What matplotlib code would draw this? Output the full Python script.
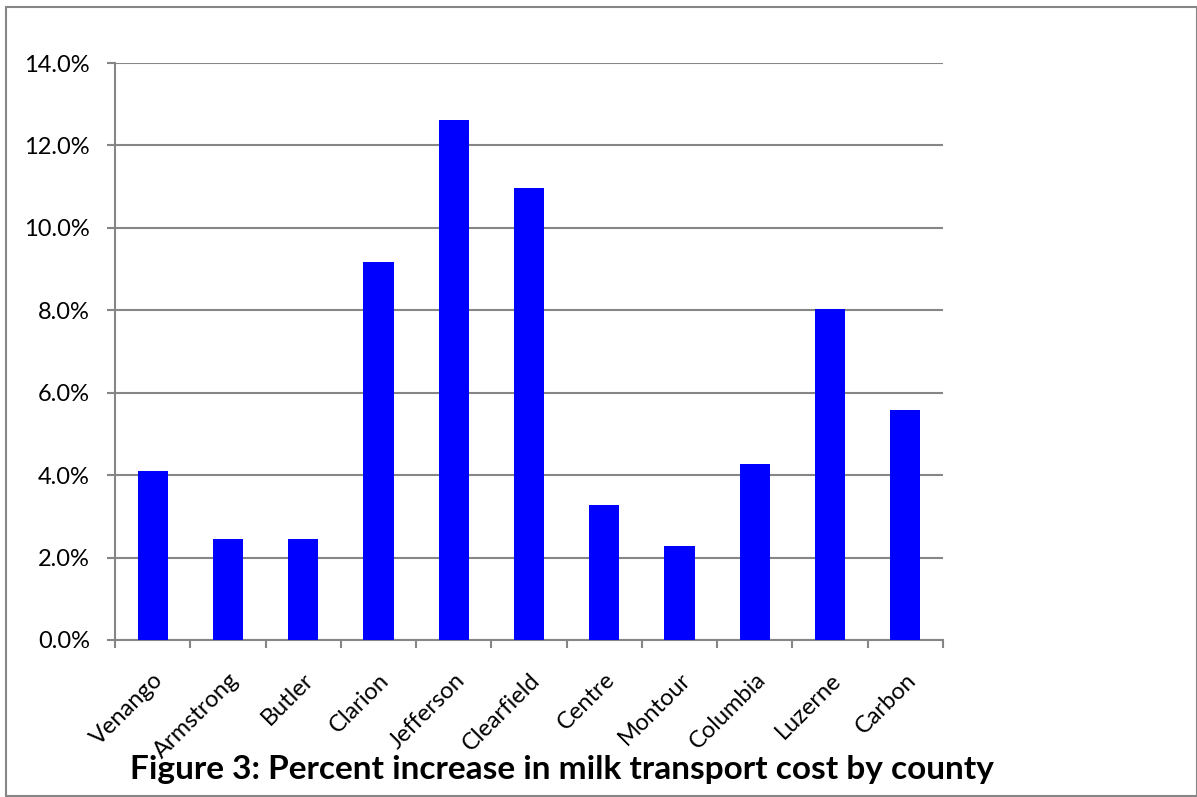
import matplotlib
matplotlib.use("Agg")
import matplotlib.pyplot as plt
import matplotlib.patches as patches
import matplotlib.transforms as mtransforms
from matplotlib.ticker import FuncFormatter

counties = ["Venango", "Armstrong", "Butler", "Clarion", "Jefferson", "Clearfield",
            "Centre", "Montour", "Columbia", "Luzerne", "Carbon"]
pct_increase = [4.10, 2.45, 2.45, 9.18, 12.62, 10.97, 3.28, 2.29, 4.27, 8.03, 5.58]
y_ticks = [0, 2, 4, 6, 8, 10, 12, 14]
title = "Figure 3: Percent increase in milk transport cost by county"

plt.rcParams['font.family'] = ['Lato', 'DejaVu Sans']
gray = '#868686'

fig = plt.figure(figsize=(11.97, 7.97), dpi=100)
# figure frame
fig.patches.append(patches.Rectangle((6 / 1197, 1 / 797), 1 - 6 / 1197, 789 / 797,
                                     transform=fig.transFigure, fill=False,
                                     edgecolor=gray, linewidth=1.5))

ax = fig.add_axes([115 / 1197, 1 - 640 / 797, 828 / 1197, 577 / 797])
x = range(len(counties))
ax.bar(x, pct_increase, width=0.4, color='#0000ff', zorder=3)

ax.set_xlim(-0.5, len(counties) - 0.5)
ax.set_ylim(0, 14)
ax.set_yticks(y_ticks)
ax.yaxis.set_major_formatter(FuncFormatter(lambda v, p: f"{v:.1f}%"))
ax.yaxis.grid(True, color=gray, linewidth=1.5, zorder=0)

ax.set_xticks([i - 0.5 for i in range(len(counties) + 1)])
ax.set_xticklabels([])
ax.set_xticks(list(x), minor=True)
labels = ax.set_xticklabels(counties, minor=True, rotation=45, ha='right',
                            rotation_mode='anchor', fontsize=17)
shift = mtransforms.ScaledTranslation(3 / 100, 0, fig.dpi_scale_trans)
for lab in labels:
    lab.set_transform(lab.get_transform() + shift)
ax.tick_params(axis='x', which='minor', length=0, pad=21)
ax.tick_params(axis='x', which='major', length=6, color=gray, width=1.5)
ax.tick_params(axis='y', length=6, color=gray, width=1.5, labelsize=17, pad=12)

for s in ['top', 'right']:
    ax.spines[s].set_visible(False)
for s in ['left', 'bottom']:
    ax.spines[s].set_color(gray)
    ax.spines[s].set_linewidth(1.5)

fig.text(130 / 1197, 1 - 770 / 797, title, fontsize=24, fontweight='bold',
         va='center', ha='left')

fig.savefig("out.png", dpi=100)
